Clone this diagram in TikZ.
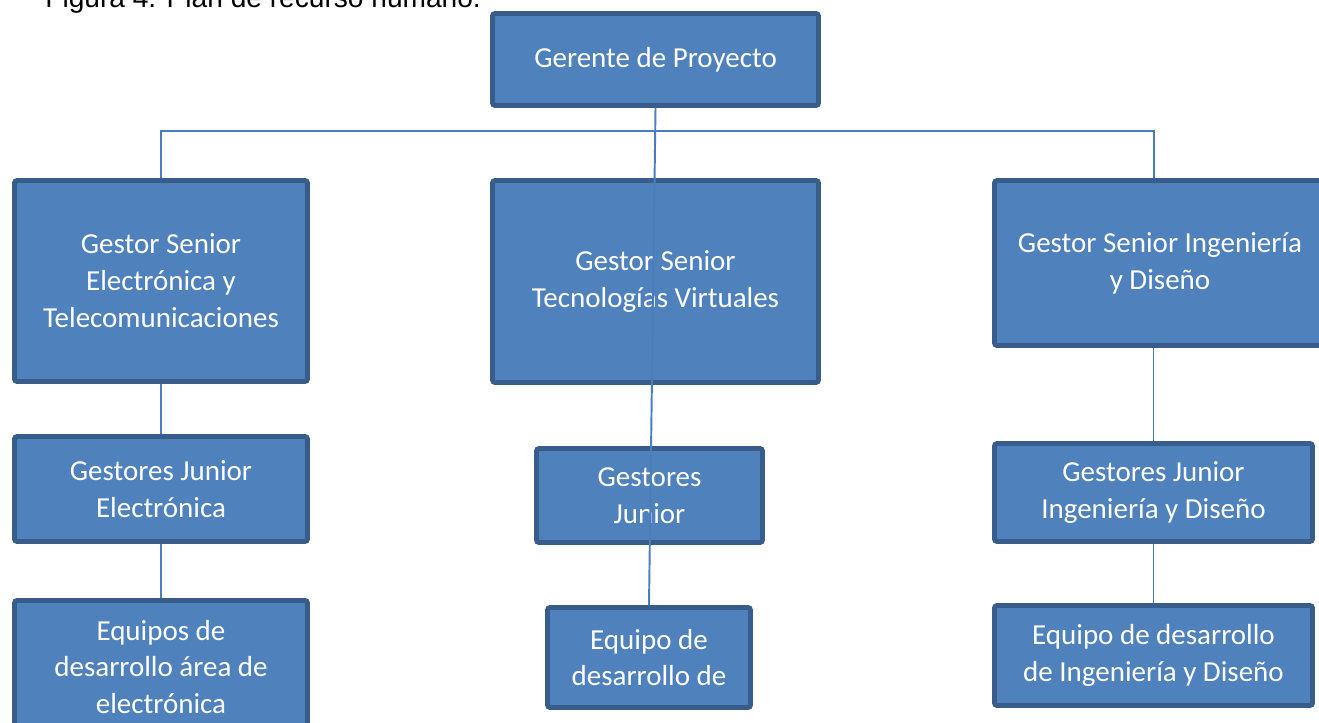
\documentclass[tikz,border=0pt]{standalone}
\usepackage{fontspec}
\setmainfont{Carlito}
\newfontfamily\arialfont{Liberation Sans}
\usetikzlibrary{positioning}

\definecolor{azulcaja}{HTML}{4F81BD}
\definecolor{azulborde}{HTML}{385D8A}
\definecolor{azullinea}{HTML}{4A7EBB}

\tikzset{
  puesto/.style={draw=azulborde, fill=azulcaja, line width=2.8pt, rounded corners=1.5pt,
    text=white, align=center, inner sep=0pt, font=\fontsize{16.5}{21}\selectfont},
  enlace/.style={draw=azullinea, line width=1.1pt}
}

\begin{document}
\begin{tikzpicture}
\useasboundingbox (0,0) rectangle (26.38,-14.46);

% titulo de la figura (cortado arriba)
\node[anchor=base west, inner sep=0pt, font=\arialfont\fontsize{16}{19}\selectfont] (titulo) at (0.9,-0.14) {Figura 4. Plan de recurso humano.};

% nivel 1
\node[puesto, minimum width=6.52cm, minimum height=1.84cm] (gerente) at (13.11,-1.19) {Gerente de Proyecto};

% nivel 2
\node[puesto, minimum width=5.86cm, minimum height=4.02cm] (senElec) at (3.22,-5.62) {Gestor Senior\\Electrónica y\\Telecomunicaciones};
\node[puesto, minimum width=6.52cm, minimum height=4.04cm] (senVirt) at (13.11,-5.63) {Gestor Senior\\Tecnologías Virtuales};
\node[puesto, minimum width=6.62cm, minimum height=3.30cm] (senIng) at (23.2,-5.26) {Gestor Senior Ingeniería\\y Diseño};

% nivel 3
\node[puesto, minimum width=5.86cm, minimum height=2.10cm] (junElec) at (3.22,-9.78) {Gestores Junior\\Electrónica};
\node[puesto, minimum width=4.52cm, minimum height=1.88cm] (junVirt) at (12.99,-9.91) {Gestores\\Junior};
\node[puesto, minimum width=6.36cm, minimum height=1.96cm] (junIng) at (23.07,-9.85) {Gestores Junior\\Ingeniería y Diseño};

% nivel 4
\node[puesto, minimum width=5.86cm, minimum height=2.66cm] (eqElec) at (3.22,-13.34) {Equipos de\\desarrollo área de\\electrónica};
\node[puesto, minimum width=4.06cm, minimum height=2.00cm] (eqVirt) at (12.98,-13.15) {Equipo de\\desarrollo de};
\node[puesto, minimum width=6.36cm, minimum height=2.00cm] (eqIng) at (23.07,-13.11) {Equipo de desarrollo\\de Ingeniería y Diseño};

% conexiones
\coordinate (busIzq) at (3.22,-2.62);
\coordinate (busDer) at (23.08,-2.62);
\draw[enlace] (senElec.north) -- (busIzq) -- (busDer) -- (busDer |- senIng.north);
\draw[enlace] (senElec.south) -- (junElec.north);
\draw[enlace] (junElec.south) -- (eqElec.north);
\draw[enlace] (junIng.north |- senIng.south) -- (junIng.north);
\draw[enlace] (junIng.south) -- (eqIng.north);
\draw[enlace] (gerente.south) -- (eqVirt.north);

\end{tikzpicture}
\end{document}
